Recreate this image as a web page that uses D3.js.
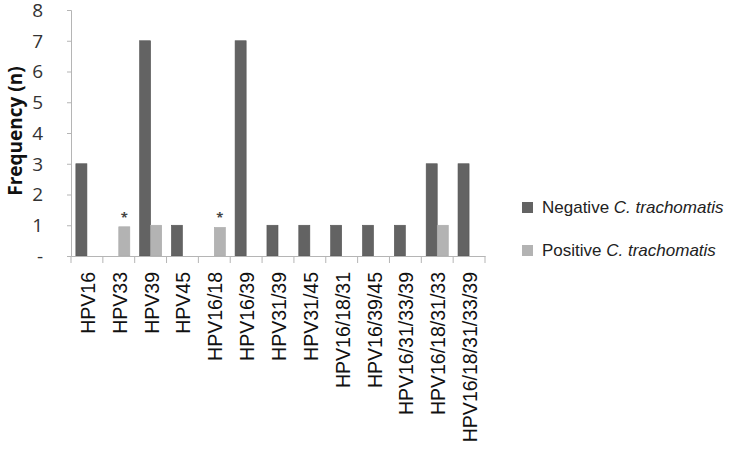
<!DOCTYPE html>
<html>
<head>
<meta charset="utf-8">
<script src="https://cdn.jsdelivr.net/npm/d3@7"></script>
<style>
  body { margin: 0; background: #fff; }
  svg { font-family: "Open Sans", sans-serif; }
</style>
</head>
<body>
<svg id="chart" width="750" height="462"></svg>
<script>
// data
var categories = ["HPV16", "HPV33", "HPV39", "HPV45", "HPV16/18", "HPV16/39", "HPV31/39",
  "HPV31/45", "HPV16/18/31", "HPV16/39/45", "HPV16/31/33/39", "HPV16/18/31/33", "HPV16/18/31/33/39"];
var negative = [3, 0, 7, 1, 0, 7, 1, 1, 1, 1, 1, 3, 3];
var positive = [0, 0.95, 1, 0, 0.93, 0, 0, 0, 0, 0, 0, 1, 0];
var starred = ["HPV33", "HPV16/18"];   // asterisks above bars
var yTicks = [0, 1, 2, 3, 4, 5, 6, 7, 8];
var seriesNames = ["Negative", "Positive"];
var colors = ["#636363", "#b3b3b3"];

var svg = d3.select("#chart");
var mLeft = 71, mRight = 485, mTop = 10, mBottom = 256;

var x = d3.scaleBand().domain(categories).range([mLeft, mRight]).padding(0);
var x1 = d3.scaleBand().domain(seriesNames).range([0, x.bandwidth()]).paddingOuter(0.44).paddingInner(0);
var y = d3.scaleLinear().domain([0, 8]).range([mBottom, mTop]);

// y axis
var yAxis = d3.axisLeft(y).tickValues(yTicks).tickSize(4).tickPadding(24)
  .tickFormat(function(d) { return d === 0 ? "-" : d; });
var gy = svg.append("g").attr("transform", "translate(" + mLeft + ",0)").call(yAxis);
gy.select(".domain").attr("stroke", "#b5b5b5");
gy.selectAll(".tick line").attr("stroke", "#b5b5b5");
gy.selectAll(".tick text").attr("font-size", 19).attr("fill", "#333").attr("font-family", "Open Sans")
  .attr("dy", "0.34em");

// bars
var rows = categories.map(function(c, i) { return {cat: c, vals: [negative[i], positive[i]]}; });
var groups = svg.selectAll(".grp").data(rows).enter().append("g")
  .attr("transform", function(d) { return "translate(" + x(d.cat) + ",0)"; });
groups.selectAll("rect").data(function(d) {
    return d.vals.map(function(v, j) { return {s: seriesNames[j], v: v, j: j}; }).filter(function(e) { return e.v > 0; });
  })
  .enter().append("rect")
  .attr("x", function(d) { return x1(d.s); })
  .attr("width", x1.bandwidth())
  .attr("y", function(d) { return y(d.v); })
  .attr("height", function(d) { return y(0) - y(d.v); })
  .attr("fill", function(d) { return colors[d.j]; })
  .attr("stroke", function(d) { return d.j === 0 ? "#555" : "#aaa"; })
  .attr("stroke-width", 0.6);

// asterisks
svg.selectAll(".star").data(starred).enter().append("text")
  .attr("x", function(d) { return x(d) + x1("Positive") + x1.bandwidth() / 2; })
  .attr("y", function(d) { return y(positive[categories.indexOf(d)]) - 5; })
  .attr("text-anchor", "middle")
  .attr("font-size", 13)
  .attr("font-weight", "bold")
  .attr("fill", "#444")
  .text("*");

// x axis
var xAxis = d3.axisBottom(x).tickSize(0).tickFormat("");
var gx = svg.append("g").attr("transform", "translate(0," + mBottom + ")").call(xAxis);
gx.select(".domain").attr("stroke", "#b5b5b5");
// boundary ticks
var bounds = categories.map(function(c) { return x(c); }).concat([mRight]);
gx.selectAll(".bt").data(bounds).enter().append("line")
  .attr("x1", function(d) { return d; }).attr("x2", function(d) { return d; })
  .attr("y1", 0).attr("y2", 7).attr("stroke", "#b5b5b5");
gx.selectAll(".lbl").data(categories).enter().append("text")
  .attr("transform", function(d) { return "translate(" + (x(d) + x.bandwidth() / 2 + 8) + ",16) rotate(-90)"; })
  .attr("text-anchor", "end")
  .attr("font-size", 19.5)
  .attr("fill", "#111")
  .text(function(d) { return d; });

// y axis title
svg.append("text")
  .attr("transform", "translate(22,131) rotate(-90)")
  .attr("text-anchor", "middle")
  .attr("font-size", 19)
  .attr("font-weight", "bold")
  .attr("fill", "#111")
  .text("Frequency (n)");

// legend
var legend = svg.selectAll(".leg").data(seriesNames).enter().append("g")
  .attr("transform", function(d, i) { return "translate(522," + (202 + i * 43) + ")"; });
legend.append("rect").attr("width", 11).attr("height", 11)
  .attr("fill", function(d, i) { return colors[i]; });
var lt = legend.append("text").attr("x", 20).attr("y", 11)
  .attr("font-family", "Liberation Sans, Arial, sans-serif")
  .attr("font-size", 17).attr("fill", "#222");
lt.append("tspan").text(function(d) { return d + " "; });
lt.append("tspan").attr("font-style", "italic").text("C. trachomatis");
</script>
</body>
</html>
